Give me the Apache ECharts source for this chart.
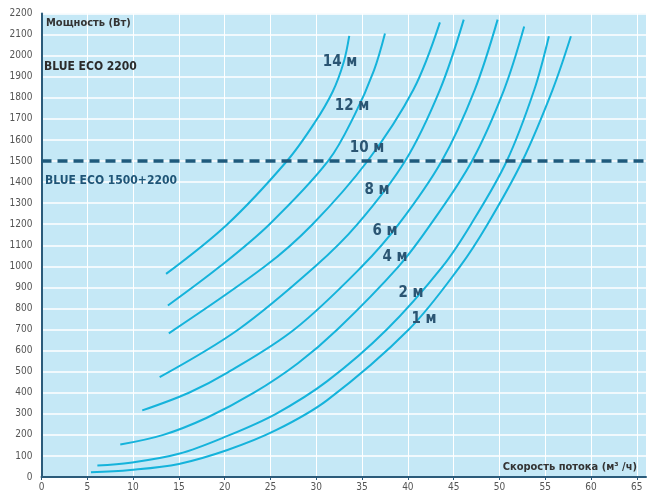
<!DOCTYPE html>
<html>
<head>
<meta charset="utf-8">
<script src="https://cdn.jsdelivr.net/npm/echarts@6/dist/echarts.min.js"></script>
<style>
html,body{margin:0;padding:0;background:#fff;}
#chart{width:647px;height:492px;}
</style>
</head>
<body>
<div id="chart"></div>
<script>
// Flow rate (m³/h) vs power (W) for each head height
const curveNames = ['1 м', '2 м', '4 м', '6 м', '8 м', '10 м', '12 м', '14 м'];
const curve1m  = [[5.4,22],[9.7,33],[15,62],[20.3,128],[25.6,222],[31.2,365],[40.1,700],[45.7,1000],[48.7,1200],[52.5,1500],[55.8,1838],[57.8,2092]];
const curve2m  = [[6.1,55],[9.7,68],[15,110],[20.3,195],[25.6,300],[31.2,455],[37.7,700],[43.8,1000],[46.9,1200],[50.8,1500],[53.8,1838],[55.4,2092]];
const curve4m  = [[8.6,154],[13.3,200],[18,280],[23.2,400],[28,540],[32.3,700],[39.0,1000],[42.5,1200],[47.0,1500],[50.5,1838],[52.7,2138]];
const curve6m  = [[11.0,316],[16.1,400],[20.3,495],[27.6,700],[35.0,1000],[39.0,1200],[43.7,1500],[47.3,1838],[49.8,2171]];
const curve8m  = [[12.9,474],[21.5,700],[29.9,1000],[34.5,1200],[39.7,1500],[43.5,1838],[46.1,2171]];
const curve10m = [[13.9,682],[24.4,1000],[29.6,1200],[35.6,1500],[40.6,1838],[43.5,2158]];
const curve12m = [[13.8,814],[19.5,1000],[24.9,1200],[31.3,1500],[34.2,1720],[36.3,1930],[37.5,2105]];
const curve14m = [[13.6,964],[20.3,1200],[26.8,1500],[29.8,1680],[31.8,1830],[33.0,1970],[33.6,2094]];
const curves = [curve1m, curve2m, curve4m, curve6m, curve8m, curve10m, curve12m, curve14m];
const xTicks = [0,5,10,15,20,25,30,35,40,45,50,55,60,65];
const limitPower = 1500;
const texts = {
  yTitle: 'Мощность (Вт)',
  xTitle: 'Скорость потока (м³ /ч)',
  model1: 'BLUE ECO 2200',
  model2: 'BLUE ECO 1500+2200'
};

const narrow = "'Liberation Sans Narrow','DejaVu Sans Condensed','Liberation Sans',sans-serif";
const labelPos = [[424,319],[411,293],[395,257],[385,231],[377,190],[367,148],[352,106],[340,62]];

const chart = echarts.init(document.getElementById('chart'), null, {renderer:'canvas'});
const series = curves.map((c, i) => ({
  name: curveNames[i],
  type: 'line',
  data: c,
  smooth: 0.35,
  showSymbol: false,
  silent: true,
  lineStyle: {color: '#15b3db', width: 2},
  z: 3
}));
series.push({
  type: 'line',
  data: [],
  silent: true,
  markLine: {
    silent: true,
    symbol: 'none',
    label: {show: false},
    lineStyle: {color: '#1f5a7c', width: 3.5, type: [10, 6]},
    data: [{yAxis: limitPower}]
  },
  z: 4
});

const graphics = curveNames.map((n, i) => ({
  type: 'text',
  x: labelPos[i][0], y: labelPos[i][1],
  style: {text: n, font: "bold 15px " + narrow, fill: '#2a5573', align: 'center', verticalAlign: 'middle'},
  z: 10
}));
graphics.push(
  {type:'text', x:46, y:23, style:{text:texts.yTitle, font:"bold 11px "+narrow, fill:'#333', verticalAlign:'middle'}, z:10},
  {type:'text', x:44, y:67, style:{text:texts.model1, font:"bold 12px "+narrow, fill:'#2b2b2b', verticalAlign:'middle'}, z:10},
  {type:'text', x:45, y:181, style:{text:texts.model2, font:"bold 12px "+narrow, fill:'#1f5577', verticalAlign:'middle'}, z:10},
  {type:'text', x:637, y:467, style:{text:texts.xTitle, font:"bold 11px "+narrow, fill:'#333', align:'right', verticalAlign:'middle'}, z:10}
);

chart.setOption({
  animation: false,
  backgroundColor: '#fff',
  grid: {left: 41.5, right: 1, top: 13.5, bottom: 14.3, show: true, backgroundColor: '#c5e8f6', borderWidth: 0},
  xAxis: {
    type: 'value', min: 0, max: 66, interval: 1,
    axisLine: {show: true, onZero: false, lineStyle: {color: '#2b5b7a', width: 2}},
    axisTick: {show: true, length: 3, customValues: xTicks, lineStyle: {color: '#2b5b7a'}},
    axisLabel: {customValues: xTicks, color: '#555', fontSize: 10, fontFamily: narrow, margin: 5, formatter: v => String(v)},
    splitLine: {show: true, lineStyle: {color: '#ffffff', width: 1}}
  },
  yAxis: {
    type: 'value', min: 0, max: 2200, interval: 100,
    axisLine: {show: true, lineStyle: {color: '#2b5b7a', width: 2}},
    axisTick: {show: false},
    axisLabel: {color: '#555', fontSize: 10, fontFamily: narrow, margin: 9, formatter: v => String(v)},
    splitLine: {show: true, lineStyle: {color: '#ffffff', width: 1.5}}
  },
  series: series,
  graphic: graphics
});
</script>
</body>
</html>
